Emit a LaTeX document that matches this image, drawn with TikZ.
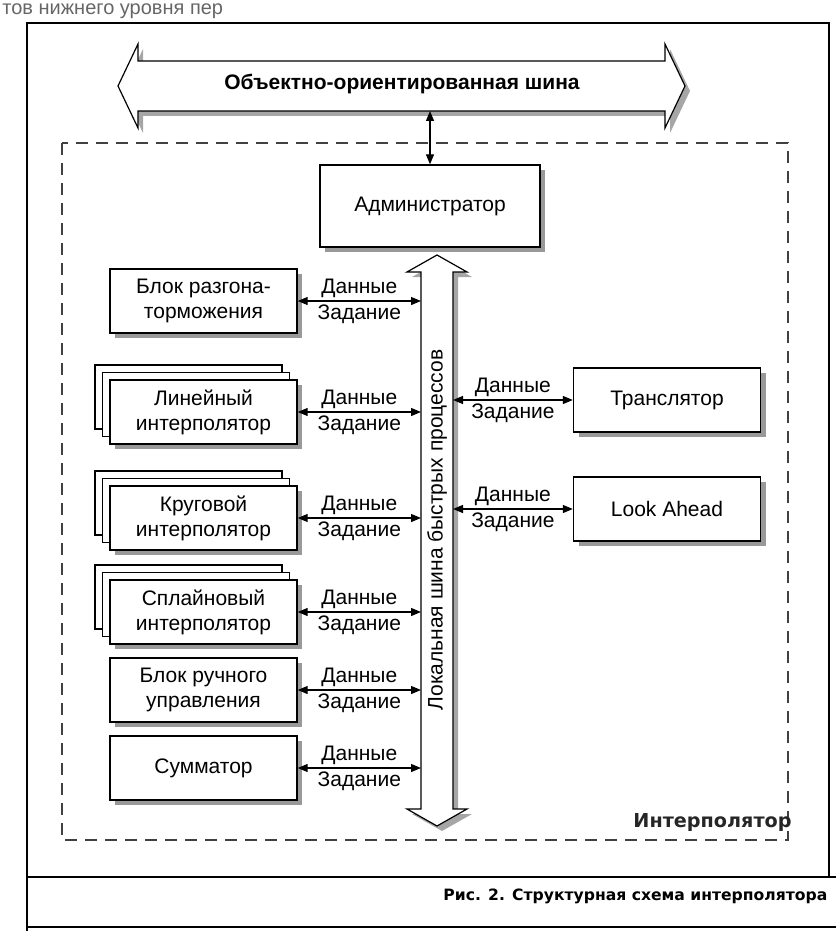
\documentclass[tikz,border=0pt]{standalone}
\usepackage{fontspec}
\setmainfont{Liberation Sans}
\newfontfamily\capfont{DejaVu Sans}
\usetikzlibrary{arrows.meta, shadows}

\begin{document}
\begin{tikzpicture}[x=0.5pt, y=-0.5pt,
  box/.style={draw, fill=white, line width=0.7pt, minimum width=93.5pt, minimum height=32pt, align=center, inner sep=2pt,
    font=\fontsize{10.5}{12.5}\selectfont, drop shadow={shadow xshift=2.5pt, shadow yshift=-2.5pt, fill=black!40, opacity=1}},
  stackbox/.style={box, double copy shadow={shadow xshift=-3.75pt, shadow yshift=3.75pt, line width=0.7pt}},
  bus/.style={draw, fill=white, line width=0.6pt, drop shadow={shadow xshift=2.5pt, shadow yshift=-2.5pt, fill=black!35, opacity=1}},
  link/.style={{Stealth[length=5pt, width=4pt, inset=0pt]}-{Stealth[length=5pt, width=4pt, inset=0pt]}, line width=0.6pt},
  lbl/.style={font=\fontsize{10.5}{12.5}\selectfont, inner sep=1.5pt},
  dashframe/.style={draw=black!75, line width=0.7pt, dash pattern=on 6pt off 4pt},
]
  \useasboundingbox (0,0) rectangle (835,931);
  \node[anchor=base west, inner sep=0, text=black!60, font=\fontsize{10}{12}\selectfont] (toptxt) at (2,15) {тов нижнего уровня пер};

  \draw[line width=0.7pt] (27,940) -- (27,23) -- (829,23) -- (829,877);
  \draw[line width=0.7pt] (27,877) -- (840,877);
  \draw[line width=0.7pt] (27,927) -- (840,927);
  \node[anchor=base west, inner sep=0, font=\capfont\fontsize{7.8}{10}\selectfont\bfseries] (cap) at (443,900) {Рис. 2. Структурная схема интерполятора};

  \draw[dashframe] (62,143) rectangle (788,840);
  \node[anchor=east, inner sep=0, text=black!85, font=\capfont\fontsize{9.6}{12}\selectfont\bfseries] (interp) at (792,822) {Интерполятор};

  \draw[bus] (118,86) -- (138,44) -- (138,61) -- (665,61) -- (665,44) -- (685,86) -- (665,128) -- (665,111) -- (138,111) -- (138,128) -- cycle;
  \node[font=\fontsize{10.5}{12.5}\selectfont\bfseries] (objbus) at (402,84) {Объектно-ориентированная шина};
  \coordinate (objbusS) at (430,111);

  \draw[bus] (437,255) -- (467,272) -- (453,272) -- (453,809) -- (467,809) -- (437,826) -- (407,809) -- (421,809) -- (421,272) -- (407,272) -- cycle;
  \node[rotate=90, font=\fontsize{10.5}{12.5}\selectfont] (locbus) at (437,530) {Локальная шина быстрых процессов};
  \coordinate (locbusL) at (421,540);
  \coordinate (locbusR) at (453,540);

  \node[box, minimum width=110pt, minimum height=41pt] (admin) at (430,206) {Администратор};
  \node[box] (razgon) at (203.5,301) {Блок разгона-\\торможения};
  \node[stackbox] (linear) at (203.5,412) {Линейный\\интерполятор};
  \node[stackbox] (circle) at (203.5,518) {Круговой\\интерполятор};
  \node[stackbox] (spline) at (203.5,612) {Сплайновый\\интерполятор};
  \node[box] (manual) at (203.5,690) {Блок ручного\\управления};
  \node[box] (summ) at (203.5,768) {Сумматор};
  \node[box] (transl) at (667,400) {Транслятор};
  \node[box] (look) at (667,509) {Look Ahead};

  \draw[link] (objbusS) -- (admin.north);
  \foreach \blk in {razgon, linear, circle, spline, manual, summ}
    \draw[link] (\blk.east) -- (\blk.east -| locbusL) node[midway, above, lbl] {Данные} node[midway, below, lbl] {Задание};
  \foreach \blk in {transl, look}
    \draw[link] (\blk.west -| locbusR) -- (\blk.west) node[midway, above, lbl] {Данные} node[midway, below, lbl] {Задание};
\end{tikzpicture}
\end{document}
